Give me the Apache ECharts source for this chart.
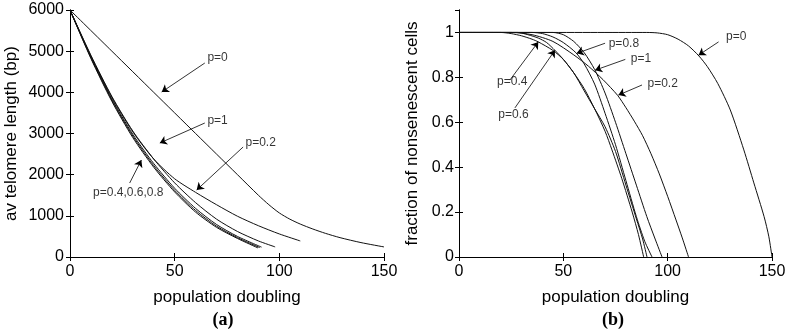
<!DOCTYPE html>
<html>
<head>
<meta charset="utf-8">
<script src="https://cdn.jsdelivr.net/npm/echarts@6/dist/echarts.min.js"></script>
<style>
  html, body { margin: 0; background: #fff; }
  #chart { width: 788px; height: 330px; }
</style>
</head>
<body>
<div id="chart"></div>
<script>
// ---- (a) average telomere length (bp) vs population doubling
const lenP0  = [[0,6000],[20,5000],[40,4000],[60,3000],[70,2500],[80,2000],[90,1500],[95,1270],[100,1070],[105,920],[110,800],[116,680],[122,575],[129,470],[139,350],[150,245]];
const lenP02 = [[0,6000],[10,4880],[20,3880],[30,3040],[40,2380],[50,1900],[60,1570],[70,1270],[80,990],[90,760],[100,560],[110,390]];
const lenP04 = [[0,6000],[10,4820],[20,3780],[30,2900],[40,2180],[50,1580],[60,1090],[70,720],[80,450],[89.8,220]];
const lenP06 = [[0,6000],[10,4840],[20,3810],[30,2940],[40,2220],[50,1620],[60,1130],[70,750],[80,470],[90.6,230]];
const lenP08 = [[0,6000],[10,4860],[20,3840],[30,2980],[40,2270],[50,1670],[60,1180],[70,790],[80,500],[91.5,240]];
const lenP1  = [[0,6000],[10,4900],[20,3900],[30,3060],[40,2380],[50,1800],[60,1320],[70,920],[80,620],[90,390],[98,245]];

// ---- (b) fraction of nonsenescent cells vs population doubling
const fracP0  = [[0,1],[90,1],[95,0.998],[100,0.99],[105,0.97],[110,0.94],[115,0.895],[119,0.848],[124,0.773],[130,0.655],[136.5,0.477],[141.3,0.33],[146.2,0.18],[148.5,0.09],[150,0]];
const fracP02 = [[0,1],[25,1],[35,0.99],[45,0.96],[55,0.9],[62,0.85],[69,0.79],[76,0.72],[80,0.665],[84,0.605],[88,0.54],[92,0.46],[96,0.37],[100,0.27],[104,0.165],[107,0.085],[110,0]];
const fracP04 = [[0,1],[20,1],[25,0.995],[30,0.985],[35,0.97],[38,0.958],[45,0.92],[50,0.88],[55,0.82],[60,0.75],[65,0.66],[70,0.56],[73.3,0.477],[78,0.35],[83,0.2],[86,0.1],[88.5,0]];
const fracP06 = [[0,1],[28,1],[33,0.99],[38,0.975],[42,0.955],[46,0.92],[50,0.88],[55,0.82],[60,0.74],[65,0.66],[70,0.58],[75,0.47],[80,0.32],[85,0.17],[88,0.08],[90.1,0]];
const fracP08 = [[0,1],[35,1],[40,0.995],[45,0.98],[50,0.955],[56,0.91],[60,0.86],[65,0.77],[70,0.64],[75,0.5],[80,0.34],[85,0.18],[89,0.07],[92.5,0]];
const fracP1  = [[0,1],[45,1],[50,0.99],[55,0.96],[60,0.91],[65,0.835],[70,0.73],[75,0.6],[80,0.46],[85,0.32],[90,0.18],[94,0.08],[97.3,0]];

// annotations: label anchor (left-middle of text), arrow tail, arrow tip
const notesA = [
  { text: 'p=0',            at: [65.4, 4834], from: [64.4, 4712], to: [43.8, 4008] },
  { text: 'p=1',            at: [65.4, 3303], from: [64.4, 3255], to: [42.9, 2769] },
  { text: 'p=0.2',          at: [83.6, 2769], from: [82.7, 2672], to: [60.5, 1627] },
  { text: 'p=0.4,0.6,0.8',  at: [10.8, 1555], from: [28.5, 1797], to: [34.1, 2356] }
];
const notesB = [
  { text: 'p=0.4', at: [18.0, 0.78],  from: [24.4, 0.788], to: [38.0, 0.958] },
  { text: 'p=0.6', at: [18.6, 0.632], from: [26.8, 0.664], to: [46.0, 0.921] },
  { text: 'p=0.8', at: [71.5, 0.951], from: [70.0, 0.952], to: [56.4, 0.907] },
  { text: 'p=1',   at: [82.1, 0.881], from: [79.7, 0.88],  to: [65.2, 0.832] },
  { text: 'p=0.2', at: [90.1, 0.77],  from: [87.7, 0.766], to: [76.4, 0.721] },
  { text: 'p=0',   at: [127.7, 0.98], from: [124.4, 0.958], to: [114.8, 0.899] }
];

const xTicks = { min: 0, max: 150, interval: 50 };
const yTicksA = { min: 0, max: 6000, interval: 1000 };
const yTicksB = { min: 0, max: 1.1, interval: 0.2 };

const FONT = 'Liberation Sans';
const ink = '#000';
const plain = v => String(Math.round(v * 10) / 10);

function axisBase(extra) {
  return Object.assign({
    type: 'value',
    axisLine: { show: true, lineStyle: { color: ink, width: 1 } },
    axisTick: { show: true, inside: true, length: 4, lineStyle: { color: ink } },
    splitLine: { show: false },
    axisLabel: { color: ink, fontFamily: FONT, fontSize: 16, formatter: plain }
  }, extra);
}
function mirror(extra) {
  return axisBase(Object.assign({ axisLabel: { show: false } }, extra));
}
const nameStyle = { color: ink, fontFamily: FONT, fontSize: 17 };

function curve(data, xi, yi) {
  return {
    type: 'line', xAxisIndex: xi, yAxisIndex: yi, data: data,
    showSymbol: false, smooth: 0.25,
    lineStyle: { color: '#111', width: 1 }, silent: true
  };
}
function arrows(notes, xi, yi) {
  return {
    type: 'lines', coordinateSystem: 'cartesian2d', xAxisIndex: xi, yAxisIndex: yi,
    symbol: ['none', 'arrow'], symbolSize: 7, silent: true, z: 5,
    lineStyle: { color: ink, width: 0.8, opacity: 1 },
    data: notes.map(n => ({ coords: [n.from, n.to] }))
  };
}
function labels(notes, xi, yi) {
  return {
    type: 'scatter', xAxisIndex: xi, yAxisIndex: yi, symbolSize: 1, silent: true,
    itemStyle: { color: 'rgba(0,0,0,0)' },
    label: { show: true, position: 'right', distance: 0, formatter: p => p.name,
             color: ink, fontFamily: FONT, fontSize: 12 },
    data: notes.map(n => ({ name: n.text, value: n.at }))
  };
}

const chart = echarts.init(document.getElementById('chart'));
chart.setOption({
  animation: false,
  backgroundColor: '#fff',
  grid: [
    { left: 70, top: 10, width: 314, height: 247, outerBoundsMode: 'none' },
    { left: 459, top: 10, width: 313, height: 247, outerBoundsMode: 'none' }
  ],
  xAxis: [
    axisBase(Object.assign({ gridIndex: 0, position: 'bottom', name: 'population doubling',
      nameLocation: 'middle', nameGap: 32, nameTextStyle: nameStyle,
      axisLabel: { color: ink, fontFamily: FONT, fontSize: 16, margin: 7, formatter: plain } }, xTicks)),
    mirror(Object.assign({ gridIndex: 0, position: 'top' }, xTicks)),
    axisBase(Object.assign({ gridIndex: 1, position: 'bottom', name: 'population doubling',
      nameLocation: 'middle', nameGap: 32, nameTextStyle: nameStyle,
      axisLabel: { color: ink, fontFamily: FONT, fontSize: 16, margin: 7, formatter: plain } }, xTicks)),
    mirror(Object.assign({ gridIndex: 1, position: 'top' }, xTicks))
  ],
  yAxis: [
    axisBase(Object.assign({ gridIndex: 0, position: 'left', name: 'av telomere length (bp)',
      nameLocation: 'middle', nameGap: 50, nameTextStyle: nameStyle,
      axisLabel: { color: ink, fontFamily: FONT, fontSize: 16, margin: 6, formatter: plain } }, yTicksA)),
    mirror(Object.assign({ gridIndex: 0, position: 'right' }, yTicksA)),
    axisBase(Object.assign({ gridIndex: 1, position: 'left', name: 'fraction of nonsenescent cells',
      nameLocation: 'middle', nameGap: 38, nameTextStyle: nameStyle,
      axisLabel: { color: ink, fontFamily: FONT, fontSize: 16, margin: 5, showMaxLabel: false, formatter: plain } }, yTicksB)),
    mirror(Object.assign({ gridIndex: 1, position: 'right' }, yTicksB))
  ],
  graphic: [
    { type: 'text', x: 223, y: 320, style: { text: '(a)', fill: ink, font: 'bold 18px "Liberation Serif"', textAlign: 'center', textVerticalAlign: 'middle' } },
    { type: 'text', x: 613, y: 320, style: { text: '(b)', fill: ink, font: 'bold 18px "Liberation Serif"', textAlign: 'center', textVerticalAlign: 'middle' } }
  ],
  series: [
    curve(lenP0, 0, 0), curve(lenP02, 0, 0), curve(lenP04, 0, 0),
    curve(lenP06, 0, 0), curve(lenP08, 0, 0), curve(lenP1, 0, 0),
    arrows(notesA, 0, 0), labels(notesA, 0, 0),
    curve(fracP0, 2, 2), curve(fracP02, 2, 2), curve(fracP04, 2, 2),
    curve(fracP06, 2, 2), curve(fracP08, 2, 2), curve(fracP1, 2, 2),
    arrows(notesB, 2, 2), labels(notesB, 2, 2)
  ]
});
</script>
</body>
</html>
